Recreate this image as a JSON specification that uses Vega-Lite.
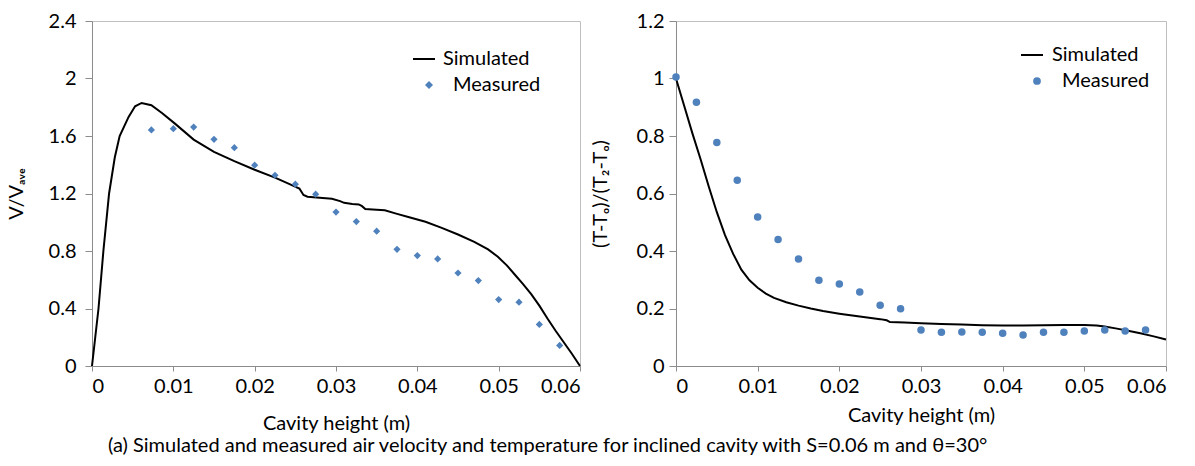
{
  "$schema": "https://vega.github.io/schema/vega-lite/v6.json",
  "background": "white",
  "padding": {"left": 5, "top": 10, "right": 5, "bottom": 5},
  "title": {
    "text": "(a) Simulated and measured air velocity and temperature for inclined cavity with S=0.06 m and θ=30°",
    "orient": "bottom",
    "anchor": "start",
    "frame": "group",
    "dx": 16,
    "font": "Lato",
    "fontSize": 20,
    "fontWeight": "normal",
    "color": "black",
    "offset": 2
  },
  "datasets": {
    "simL": [
      {"x": 0, "y": 0, "series": "Simulated"},
      {"x": 0.0004, "y": 0.2, "series": "Simulated"},
      {"x": 0.0008, "y": 0.4, "series": "Simulated"},
      {"x": 0.0014, "y": 0.8, "series": "Simulated"},
      {"x": 0.0021, "y": 1.2, "series": "Simulated"},
      {"x": 0.0028, "y": 1.45, "series": "Simulated"},
      {"x": 0.0034, "y": 1.6, "series": "Simulated"},
      {"x": 0.0045, "y": 1.733, "series": "Simulated"},
      {"x": 0.0053, "y": 1.807, "series": "Simulated"},
      {"x": 0.0061, "y": 1.83, "series": "Simulated"},
      {"x": 0.0073, "y": 1.814, "series": "Simulated"},
      {"x": 0.0086, "y": 1.76, "series": "Simulated"},
      {"x": 0.0102, "y": 1.686, "series": "Simulated"},
      {"x": 0.0125, "y": 1.575, "series": "Simulated"},
      {"x": 0.015, "y": 1.49, "series": "Simulated"},
      {"x": 0.0175, "y": 1.425, "series": "Simulated"},
      {"x": 0.02, "y": 1.365, "series": "Simulated"},
      {"x": 0.0225, "y": 1.31, "series": "Simulated"},
      {"x": 0.0245, "y": 1.26, "series": "Simulated"},
      {"x": 0.0255, "y": 1.235, "series": "Simulated"},
      {"x": 0.026, "y": 1.19, "series": "Simulated"},
      {"x": 0.0265, "y": 1.178, "series": "Simulated"},
      {"x": 0.028, "y": 1.17, "series": "Simulated"},
      {"x": 0.0295, "y": 1.163, "series": "Simulated"},
      {"x": 0.0305, "y": 1.147, "series": "Simulated"},
      {"x": 0.031, "y": 1.135, "series": "Simulated"},
      {"x": 0.032, "y": 1.127, "series": "Simulated"},
      {"x": 0.0328, "y": 1.124, "series": "Simulated"},
      {"x": 0.0332, "y": 1.112, "series": "Simulated"},
      {"x": 0.0336, "y": 1.092, "series": "Simulated"},
      {"x": 0.0345, "y": 1.089, "series": "Simulated"},
      {"x": 0.036, "y": 1.083, "series": "Simulated"},
      {"x": 0.0374, "y": 1.06, "series": "Simulated"},
      {"x": 0.039, "y": 1.035, "series": "Simulated"},
      {"x": 0.041, "y": 1.003, "series": "Simulated"},
      {"x": 0.043, "y": 0.961, "series": "Simulated"},
      {"x": 0.045, "y": 0.915, "series": "Simulated"},
      {"x": 0.047, "y": 0.864, "series": "Simulated"},
      {"x": 0.0487, "y": 0.811, "series": "Simulated"},
      {"x": 0.0499, "y": 0.76, "series": "Simulated"},
      {"x": 0.051, "y": 0.7, "series": "Simulated"},
      {"x": 0.052, "y": 0.635, "series": "Simulated"},
      {"x": 0.053, "y": 0.57, "series": "Simulated"},
      {"x": 0.054, "y": 0.5, "series": "Simulated"},
      {"x": 0.055, "y": 0.42, "series": "Simulated"},
      {"x": 0.056, "y": 0.33, "series": "Simulated"},
      {"x": 0.057, "y": 0.245, "series": "Simulated"},
      {"x": 0.058, "y": 0.165, "series": "Simulated"},
      {"x": 0.059, "y": 0.085, "series": "Simulated"},
      {"x": 0.06, "y": 0, "series": "Simulated"}
    ],
    "measL": [
      {"x": 0.0073, "y": 1.642, "series": "Measured"},
      {"x": 0.01, "y": 1.651, "series": "Measured"},
      {"x": 0.0125, "y": 1.662, "series": "Measured"},
      {"x": 0.015, "y": 1.577, "series": "Measured"},
      {"x": 0.0175, "y": 1.519, "series": "Measured"},
      {"x": 0.02, "y": 1.397, "series": "Measured"},
      {"x": 0.0225, "y": 1.327, "series": "Measured"},
      {"x": 0.025, "y": 1.265, "series": "Measured"},
      {"x": 0.0275, "y": 1.195, "series": "Measured"},
      {"x": 0.03, "y": 1.071, "series": "Measured"},
      {"x": 0.0325, "y": 1.005, "series": "Measured"},
      {"x": 0.035, "y": 0.938, "series": "Measured"},
      {"x": 0.0375, "y": 0.812, "series": "Measured"},
      {"x": 0.04, "y": 0.768, "series": "Measured"},
      {"x": 0.0425, "y": 0.745, "series": "Measured"},
      {"x": 0.045, "y": 0.647, "series": "Measured"},
      {"x": 0.0475, "y": 0.594, "series": "Measured"},
      {"x": 0.05, "y": 0.462, "series": "Measured"},
      {"x": 0.0525, "y": 0.444, "series": "Measured"},
      {"x": 0.055, "y": 0.289, "series": "Measured"},
      {"x": 0.0575, "y": 0.143, "series": "Measured"}
    ],
    "simR": [
      {"x": 0, "y": 1.0, "series": "Simulated"},
      {"x": 0.001, "y": 0.905, "series": "Simulated"},
      {"x": 0.002, "y": 0.81, "series": "Simulated"},
      {"x": 0.003, "y": 0.72, "series": "Simulated"},
      {"x": 0.004, "y": 0.625, "series": "Simulated"},
      {"x": 0.005, "y": 0.535, "series": "Simulated"},
      {"x": 0.006, "y": 0.455, "series": "Simulated"},
      {"x": 0.007, "y": 0.39, "series": "Simulated"},
      {"x": 0.008, "y": 0.335, "series": "Simulated"},
      {"x": 0.009, "y": 0.298, "series": "Simulated"},
      {"x": 0.01, "y": 0.272, "series": "Simulated"},
      {"x": 0.011, "y": 0.252, "series": "Simulated"},
      {"x": 0.012, "y": 0.237, "series": "Simulated"},
      {"x": 0.0135, "y": 0.222, "series": "Simulated"},
      {"x": 0.015, "y": 0.21, "series": "Simulated"},
      {"x": 0.0165, "y": 0.2, "series": "Simulated"},
      {"x": 0.018, "y": 0.191, "series": "Simulated"},
      {"x": 0.02, "y": 0.182, "series": "Simulated"},
      {"x": 0.0225, "y": 0.172, "series": "Simulated"},
      {"x": 0.025, "y": 0.163, "series": "Simulated"},
      {"x": 0.0258, "y": 0.159, "series": "Simulated"},
      {"x": 0.0262, "y": 0.153, "series": "Simulated"},
      {"x": 0.028, "y": 0.151, "series": "Simulated"},
      {"x": 0.03, "y": 0.149, "series": "Simulated"},
      {"x": 0.0325, "y": 0.146, "series": "Simulated"},
      {"x": 0.035, "y": 0.144, "series": "Simulated"},
      {"x": 0.0375, "y": 0.142, "series": "Simulated"},
      {"x": 0.04, "y": 0.141, "series": "Simulated"},
      {"x": 0.0425, "y": 0.141, "series": "Simulated"},
      {"x": 0.045, "y": 0.142, "series": "Simulated"},
      {"x": 0.0475, "y": 0.143, "series": "Simulated"},
      {"x": 0.05, "y": 0.143, "series": "Simulated"},
      {"x": 0.0515, "y": 0.141, "series": "Simulated"},
      {"x": 0.0525, "y": 0.137, "series": "Simulated"},
      {"x": 0.054, "y": 0.13, "series": "Simulated"},
      {"x": 0.0555, "y": 0.122, "series": "Simulated"},
      {"x": 0.057, "y": 0.113, "series": "Simulated"},
      {"x": 0.0585, "y": 0.103, "series": "Simulated"},
      {"x": 0.06, "y": 0.092, "series": "Simulated"}
    ],
    "measR": [
      {"x": 0, "y": 1.005, "series": "Measured"},
      {"x": 0.0025, "y": 0.917, "series": "Measured"},
      {"x": 0.005, "y": 0.777, "series": "Measured"},
      {"x": 0.0075, "y": 0.646, "series": "Measured"},
      {"x": 0.01, "y": 0.518, "series": "Measured"},
      {"x": 0.0125, "y": 0.44, "series": "Measured"},
      {"x": 0.015, "y": 0.372, "series": "Measured"},
      {"x": 0.0175, "y": 0.298, "series": "Measured"},
      {"x": 0.02, "y": 0.285, "series": "Measured"},
      {"x": 0.0225, "y": 0.257, "series": "Measured"},
      {"x": 0.025, "y": 0.211, "series": "Measured"},
      {"x": 0.0275, "y": 0.199, "series": "Measured"},
      {"x": 0.03, "y": 0.125, "series": "Measured"},
      {"x": 0.0325, "y": 0.117, "series": "Measured"},
      {"x": 0.035, "y": 0.118, "series": "Measured"},
      {"x": 0.0375, "y": 0.117, "series": "Measured"},
      {"x": 0.04, "y": 0.114, "series": "Measured"},
      {"x": 0.0425, "y": 0.108, "series": "Measured"},
      {"x": 0.045, "y": 0.117, "series": "Measured"},
      {"x": 0.0475, "y": 0.117, "series": "Measured"},
      {"x": 0.05, "y": 0.122, "series": "Measured"},
      {"x": 0.0525, "y": 0.125, "series": "Measured"},
      {"x": 0.055, "y": 0.122, "series": "Measured"},
      {"x": 0.0575, "y": 0.125, "series": "Measured"}
    ]
  },
  "hconcat": [
    {
      "width": 488,
      "height": 345,
      "encoding": {
        "x": {"field": "x", "type": "quantitative", "scale": {"domain": [0, 0.06], "nice": false},
          "axis": {"title": "Cavity height (m)", "values": [0, 0.01, 0.02, 0.03, 0.04, 0.05, 0.06], "format": "~g", "titlePadding": 17}},
        "y": {"field": "y", "type": "quantitative", "scale": {"domain": [0, 2.4], "nice": false},
          "axis": {"title": "V/Vₐᵥₑ", "values": [0, 0.4, 0.8, 1.2, 1.6, 2, 2.4], "format": "~g", "titlePadding": 22, "labelPadding": 9}}
      },
      "layer": [
        {"data": {"name": "simL"}, "mark": {"type": "line", "strokeWidth": 2},
          "encoding": {"color": {"field": "series", "type": "nominal",
            "scale": {"domain": ["Simulated"], "range": ["black"]},
            "legend": {"title": null, "orient": "none", "legendX": 320, "legendY": 26, "labelOffset": 7,
              "symbolType": "stroke", "symbolSize": 484, "symbolStrokeWidth": 2,
              "labelFont": "Lato", "labelFontSize": 20, "labelColor": "black"}}}},
        {"data": {"name": "measL"}, "mark": {"type": "point", "filled": true, "opacity": 1, "color": "#4F81BD", "size": 52},
          "encoding": {"shape": {"field": "series", "type": "nominal",
            "scale": {"domain": ["Measured"], "range": ["diamond"]},
            "legend": {"title": null, "orient": "none", "legendX": 327, "legendY": 54, "labelOffset": 14,
              "symbolSize": 64, "symbolFillColor": "#4F81BD", "symbolStrokeWidth": 0, "symbolOpacity": 1,
              "labelFont": "Lato", "labelFontSize": 20, "labelColor": "black"}}}}
      ],
      "resolve": {"legend": {"color": "independent", "shape": "independent"}}
    },
    {
      "width": 490,
      "height": 345,
      "encoding": {
        "x": {"field": "x", "type": "quantitative", "scale": {"domain": [0, 0.06], "nice": false},
          "axis": {"title": "Cavity height (m)", "values": [0, 0.01, 0.02, 0.03, 0.04, 0.05, 0.06], "format": "~g", "titlePadding": 9}},
        "y": {"field": "y", "type": "quantitative", "scale": {"domain": [0, 1.2], "nice": false},
          "axis": {"title": "(T-Tₒ)/(T₂-Tₒ)", "values": [0, 0.2, 0.4, 0.6, 0.8, 1, 1.2], "format": "~g", "titlePadding": 26, "labelPadding": 5}}
      },
      "layer": [
        {"data": {"name": "simR"}, "mark": {"type": "line", "strokeWidth": 2},
          "encoding": {"color": {"field": "series", "type": "nominal",
            "scale": {"domain": ["Simulated"], "range": ["black"]},
            "legend": {"title": null, "orient": "none", "legendX": 344, "legendY": 22, "labelOffset": 8,
              "symbolType": "stroke", "symbolSize": 484, "symbolStrokeWidth": 2,
              "labelFont": "Lato", "labelFontSize": 20, "labelColor": "black"}}}},
        {"data": {"name": "measR"}, "mark": {"type": "point", "filled": true, "opacity": 1, "color": "#4F81BD", "size": 56},
          "encoding": {"shape": {"field": "series", "type": "nominal",
            "scale": {"domain": ["Measured"], "range": ["circle"]},
            "legend": {"title": null, "orient": "none", "legendX": 351, "legendY": 50, "labelOffset": 15,
              "symbolSize": 60, "symbolFillColor": "#4F81BD", "symbolStrokeWidth": 0, "symbolOpacity": 1,
              "labelFont": "Lato", "labelFontSize": 20, "labelColor": "black"}}}}
      ],
      "resolve": {"legend": {"color": "independent", "shape": "independent"}}
    }
  ],
  "spacing": 96,
  "bounds": "flush",
  "resolve": {"scale": {"x": "independent", "y": "independent", "color": "independent", "shape": "independent"}, "legend": {"color": "independent", "shape": "independent"}},
  "config": {
    "font": "Lato",
    "view": {"stroke": "#BFBFBF", "strokeWidth": 1},
    "axis": {
      "grid": false,
      "domainColor": "#8C8C8C",
      "tickColor": "#8C8C8C",
      "labelFont": "Lato",
      "labelFontSize": 20,
      "labelColor": "black",
      "titleFont": "Lato",
      "titleFontSize": 20,
      "titleFontWeight": "normal",
      "titleColor": "black"
    },
    "axisX": {"tickSize": 5, "labelPadding": 5},
    "axisY": {"tickSize": 7}
  }
}
